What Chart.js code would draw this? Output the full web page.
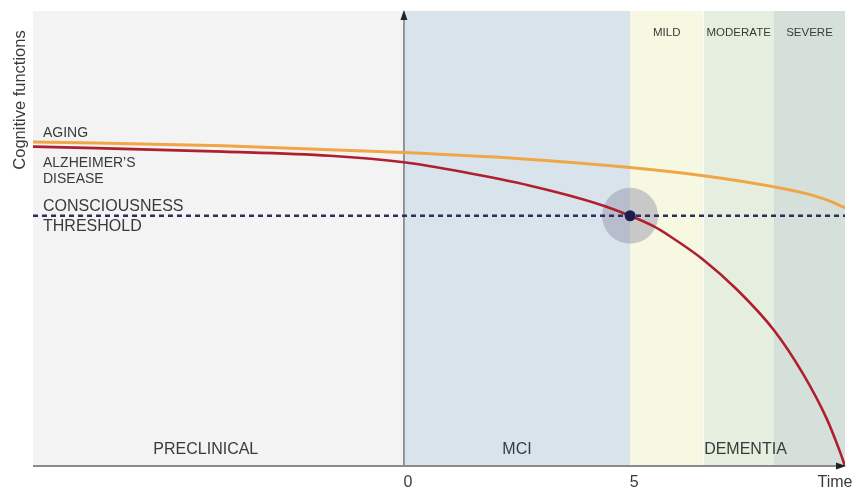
<!DOCTYPE html>
<html>
<head>
<meta charset="utf-8">
<script src="https://cdn.jsdelivr.net/npm/chart.js@4/dist/chart.umd.min.js"></script>
<style>
html,body{margin:0;padding:0;background:#ffffff;}
canvas{display:block;}
</style>
</head>
<body>
<canvas id="c" width="854" height="490"></canvas>
<script>
// ---- data ----
const agingX = [-8.2, -4, 0, 2.5, 5, 6.62, 8.16, 9.0, 9.5, 9.75];
const agingY = [71.2, 70.4, 68.9, 67.6, 65.6, 63.8, 61.4, 59.6, 57.9, 56.7];
const alzX = [-8.2, -4, -1.64, 0, 1.31, 2.79, 4.26, 5, 5.515, 5.88, 6.61, 7.36, 8.18, 8.82, 9.35, 9.64, 9.75];
const alzY = [70.2, 69.1, 68.2, 66.75, 64.6, 61.6, 57.7, 55.0, 52.7, 50.5, 45.4, 38.8, 29.85, 20.3, 10.3, 3.1, 0];
const thresholdValue = 55;
const onsetX = 5;
const xMin = -8.2, xMax = 9.75, yMin = 0, yMax = 100;
const phaseBounds = [-8.2, 0, 5, 6.62, 8.18, 9.75];
const stageNames = ['MILD', 'MODERATE', 'SEVERE'];
const phaseNames = ['PRECLINICAL', 'MCI', 'DEMENTIA'];
const phaseLabelX = [-4.38, 2.5, 7.55];
const tickValues = [0, 5];
const tickLabels = ['0', '5'];

// ---- styles ----
const bandColors = ['#f3f3f3', '#d9e3ec', '#f6f8e1', '#e6efdf', '#d5e0db'];
const FONT = '"Liberation Sans", Arial, sans-serif';
const TXT = '#3a3a3a';

const toPts = (xs, ys) => xs.map((x, i) => ({x: x, y: ys[i]}));

const decor = {
  id: 'decor',
  beforeDatasetsDraw(chart) {
    const {ctx, chartArea: a, scales: {x, y}} = chart;
    ctx.save();
    for (let i = 0; i < phaseBounds.length - 1; i++) {
      const x0 = x.getPixelForValue(phaseBounds[i]);
      const x1 = x.getPixelForValue(phaseBounds[i + 1]);
      ctx.fillStyle = bandColors[i];
      ctx.fillRect(x0, a.top, x1 - x0, a.bottom - a.top);
    }
    ctx.strokeStyle = 'rgba(255,255,255,0.7)';
    ctx.lineWidth = 1;
    [3].forEach(i => {
      const px = Math.round(x.getPixelForValue(phaseBounds[i])) + 0.5;
      ctx.beginPath(); ctx.moveTo(px, a.top); ctx.lineTo(px, a.bottom); ctx.stroke();
    });
    const x0 = x.getPixelForValue(0);
    ctx.strokeStyle = '#7a7a7a';
    ctx.lineWidth = 1.5;
    ctx.beginPath(); ctx.moveTo(x0, a.bottom); ctx.lineTo(x0, a.top + 6); ctx.stroke();
    ctx.fillStyle = '#222';
    ctx.beginPath(); ctx.moveTo(x0, a.top - 1); ctx.lineTo(x0 - 3.5, a.top + 9); ctx.lineTo(x0 + 3.5, a.top + 9); ctx.closePath(); ctx.fill();
    ctx.restore();
  },
  afterDatasetsDraw(chart) {
    const {ctx, chartArea: a, scales: {x, y}} = chart;
    ctx.save();
    const yb = a.bottom;
    ctx.strokeStyle = '#8a8a8a';
    ctx.lineWidth = 2;
    ctx.beginPath(); ctx.moveTo(a.left, yb); ctx.lineTo(a.right - 6, yb); ctx.stroke();
    ctx.fillStyle = '#222';
    ctx.beginPath(); ctx.moveTo(a.right + 1, yb); ctx.lineTo(a.right - 9, yb - 3.5); ctx.lineTo(a.right - 9, yb + 3.5); ctx.closePath(); ctx.fill();

    ctx.fillStyle = TXT;
    ctx.textBaseline = 'middle';
    ctx.font = '11.5px ' + FONT;
    ctx.textAlign = 'center';
    stageNames.forEach((s, i) => {
      const cx = (x.getPixelForValue(phaseBounds[i + 2]) + x.getPixelForValue(phaseBounds[i + 3])) / 2;
      ctx.fillText(s, cx, a.top + 21.5);
    });
    ctx.font = '16px ' + FONT;
    phaseNames.forEach((s, i) => ctx.fillText(s, x.getPixelForValue(phaseLabelX[i]), a.bottom - 16));
    tickValues.forEach((v, i) => ctx.fillText(tickLabels[i], x.getPixelForValue(v) + 4, a.bottom + 17));
    ctx.fillText('Time', a.right - 10, a.bottom + 17);
    ctx.textAlign = 'left';
    const lx = a.left + 10;
    ctx.font = '14px ' + FONT;
    ctx.fillText('AGING', lx, y.getPixelForValue(agingY[0]) - 9);
    ctx.fillText('ALZHEIMER\u2019S', lx, y.getPixelForValue(alzY[0]) + 17);
    ctx.fillText('DISEASE', lx, y.getPixelForValue(alzY[0]) + 33);
    ctx.font = '16px ' + FONT;
    const ty = y.getPixelForValue(thresholdValue);
    ctx.fillText('CONSCIOUSNESS', lx, ty - 9.5);
    ctx.fillText('THRESHOLD', lx, ty + 10.5);
    ctx.save();
    ctx.translate(25, 100);
    ctx.rotate(-Math.PI / 2);
    ctx.textAlign = 'center';
    ctx.textBaseline = 'alphabetic';
    ctx.font = '16.5px ' + FONT;
    ctx.fillText('Cognitive functions', 0, 0);
    ctx.restore();
    ctx.restore();
  }
};

new Chart(document.getElementById('c'), {
  type: 'line',
  data: {
    datasets: [
      {
        label: 'Threshold',
        data: [{x: xMin, y: thresholdValue}, {x: xMax, y: thresholdValue}],
        borderColor: '#2b2f5c', borderWidth: 2.3, borderDash: [5, 4],
        pointRadius: 0, order: 3
      },
      {
        label: 'Aging',
        data: toPts(agingX, agingY),
        borderColor: '#f0a646', borderWidth: 3,
        cubicInterpolationMode: 'monotone', pointRadius: 0, order: 2
      },
      {
        label: "Alzheimer's disease",
        data: toPts(alzX, alzY),
        borderColor: '#b01f2d', borderWidth: 2.6,
        cubicInterpolationMode: 'monotone', pointRadius: 0, order: 1
      },
      {
        label: 'Halo',
        data: [{x: onsetX, y: thresholdValue}],
        showLine: false, pointRadius: 28, pointBackgroundColor: 'rgba(145,143,170,0.45)',
        pointBorderWidth: 0, borderColor: 'rgba(0,0,0,0)', order: 4
      },
      {
        label: 'Onset',
        data: [{x: onsetX, y: thresholdValue}],
        showLine: false, pointRadius: 5.5, pointBackgroundColor: '#1b1f4f',
        pointBorderWidth: 0, borderColor: 'rgba(0,0,0,0)', order: 0
      }
    ]
  },
  options: {
    responsive: false,
    animation: false,
    layout: {autoPadding: false, padding: {left: 33, top: 11, right: 9, bottom: 24}},
    plugins: {legend: {display: false}, tooltip: {enabled: false}},
    scales: {
      x: {type: 'linear', min: xMin, max: xMax, display: false},
      y: {type: 'linear', min: yMin, max: yMax, display: false}
    },
    elements: {line: {fill: false}}
  },
  plugins: [decor]
});
</script>
</body>
</html>
